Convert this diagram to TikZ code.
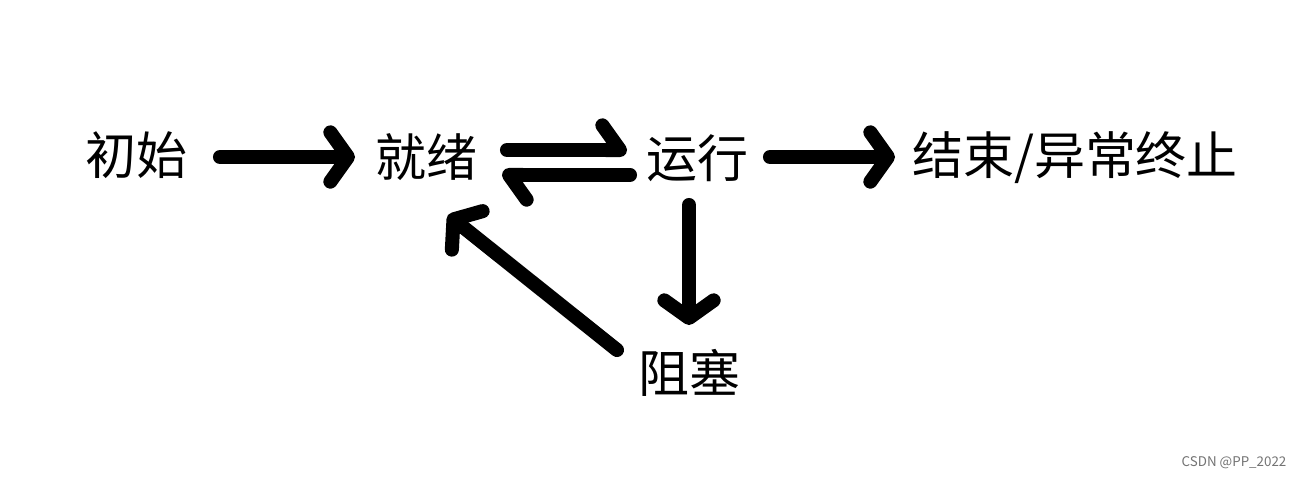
\documentclass[tikz,border=0pt]{standalone}
\usepackage{fontspec}
\setmainfont{Noto Sans CJK SC}
\usetikzlibrary{arrows.meta,calc}
\begin{document}
\begin{tikzpicture}[x=0.01cm,y=-0.01cm,
  lbl/.style={inner sep=0pt, font=\fontsize{14.5}{17}\selectfont},
  arr/.style={line width=4pt, line cap=round, -{Straight Barb[length=5pt,width=14pt,round]}},
  halfarr/.style={line width=4pt, line cap=round, -{Straight Barb[length=5pt,width=14pt,round,left]}},
]
\useasboundingbox (0,0) rectangle (1300,478);
\node[lbl] (init) at (136,155) {初始};
\node[lbl] (ready) at (426,157) {就绪};
\node[lbl] (run) at (697,158) {运行};
\node[lbl] (end) at (1075,158) {结束/异常终止};
\node[lbl] (block) at (689,373) {阻塞};
\node[font=\fontsize{3.8}{4.5}\selectfont, text=black!55, inner sep=0pt] (wm) at (1234,463) {CSDN @PP\_2022};

\draw[arr] ($(init.center)+(84,2)$) -- ($(ready.center)+(-71,0)$);
\draw[halfarr] ($(ready.center)+(81,-7)$) -- ($(run.center)+(-70,-8)$);
\draw[halfarr] ($(run.center)+(-67,17)$) -- ($(ready.center)+(76,18)$);
\draw[arr] ($(run.center)+(73,-1)$) -- ($(end.center)+(-180,-1)$);
\draw[arr] ($(run.center)+(-8,47)$) -- ($(block.center)+(0,-48)$);
\draw[arr] ($(block.center)+(-72,-23)$) -- ($(ready.center)+(22,58)$);
\end{tikzpicture}
\end{document}
